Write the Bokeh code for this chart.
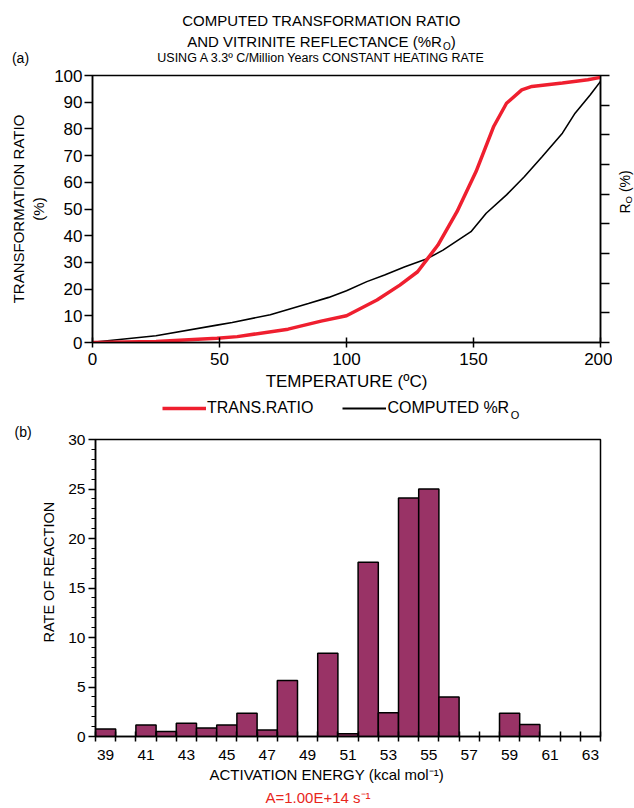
from math import pi
from bokeh.plotting import figure
from bokeh.models import (Range1d, LinearAxis, FixedTicker, Label, Legend, LegendItem, Title)
from bokeh.layouts import column, row
from bokeh.embed import file_html
from bokeh.resources import INLINE

# ---------------- data ----------------
temp_tr = [0, 25, 49, 57, 77, 90, 100, 112, 121, 128, 132, 136, 143.5, 151, 158, 163, 169, 173, 185, 195, 200]
trans_ratio = [0, 0.4, 1.6, 2.2, 5.0, 8.0, 10.0, 15.9, 21.5, 26.5, 31.5, 36.5, 49.0, 64.0, 81.0, 89.6, 94.6, 95.9, 97.2, 98.4, 99.3]

temp_ro = [0, 2, 25, 49, 55, 70, 85, 93, 100, 108, 115, 123, 132, 138, 149, 155, 163, 170, 177, 185, 190, 196, 200]
computed_ro = [0, 0.3, 2.5, 6.5, 7.5, 10.4, 14.6, 16.9, 19.4, 22.8, 25.3, 28.4, 31.5, 34.6, 41.5, 48.4, 55.3, 62.1, 69.6, 78.4, 85.9, 92.8, 97.8]

temp_ticks = [0, 50, 100, 150, 200]
ratio_ticks = [0, 10, 20, 30, 40, 50, 60, 70, 80, 90, 100]
ro_ticks = [0, 1, 2, 3, 4, 5, 6, 7, 8, 9]

energy = [39, 41, 42, 43, 44, 45, 46, 47, 48, 50, 51, 52, 53, 54, 55, 56, 59, 60]
rate = [0.75, 1.15, 0.5, 1.35, 0.85, 1.15, 2.35, 0.65, 5.65, 8.4, 0.27, 17.6, 2.4, 24.1, 25.0, 4.0, 2.35, 1.2]
energy_labels = [39, 41, 43, 45, 47, 49, 51, 53, 55, 57, 59, 61, 63]
energy_edges = [38.5 + i for i in range(26)]
rate_ticks = [0, 5, 10, 15, 20, 25, 30]
rate_minor = list(range(0, 31))

FONT = "Liberation Sans"
RED = "#ef1f2f"
BAR = "#993366"

AW = {' ': 278, '(': 333, ')': 333, '%': 889, '.': 278, '/': 278, '+': 584, '=': 584, 'º': 365,
      'A': 667, 'B': 667, 'C': 722, 'D': 722, 'E': 667, 'F': 611, 'G': 778, 'H': 722, 'I': 278,
      'L': 556, 'M': 833, 'N': 722, 'O': 778, 'P': 667, 'R': 722, 'S': 667, 'T': 611, 'U': 722,
      'V': 667, 'Y': 667}


def tw(s, size):
    return sum(AW.get(c, 556) for c in s) * size / 1000.0


def no_align(p):
    if "frame_align" in p.properties():
        p.frame_align = False


def text_panel(w, h):
    f = figure(width=w, height=h, x_range=Range1d(0, w), y_range=Range1d(0, h),
               x_axis_type=None, y_axis_type=None, output_backend="svg", toolbar_location=None,
               min_border=0, min_border_left=0, min_border_right=0, min_border_top=0,
               min_border_bottom=0)
    f.grid.visible = False
    f.outline_line_color = None
    no_align(f)
    return f


def lab(f, x, y, text, size, align="center", angle=0.0, color="black"):
    f.add_layout(Label(x=x, y=y, text=text, text_font=FONT, text_font_size=f"{size}px",
                       text_align=align, text_baseline="middle", angle=angle, text_color=color))


W = 634
W1 = 612
Y_P1, Y_LG, Y_P2, Y_END = 66, 397, 420, 808

# ---------------- header with the title block ----------------
hd = text_panel(W, Y_P1)
TC = 321
lab(hd, TC, Y_P1 - 20, "COMPUTED TRANSFORMATION RATIO", 15)
t2a, t2b, t2c = "AND VITRINITE REFLECTANCE (%R", "O", ")"
t2w = tw(t2a, 15) + tw(t2b, 10) + tw(t2c, 15)
x0 = TC - t2w / 2
lab(hd, x0, Y_P1 - 41, t2a, 15, align="left")
lab(hd, x0 + tw(t2a, 15), Y_P1 - 46, t2b, 10, align="left")
lab(hd, x0 + tw(t2a, 15) + tw(t2b, 10), Y_P1 - 41, t2c, 15, align="left")
lab(hd, TC, Y_P1 - 57, "USING A 3.3º C/Million Years CONSTANT HEATING RATE", 12.5)
lab(hd, 20, Y_P1 - 57, "(a)", 14)

# ---------------- top chart ----------------
p1 = figure(width=W1, height=Y_LG - Y_P1, x_range=Range1d(0, 200), y_range=Range1d(0, 100),
            output_backend="svg", toolbar_location=None,
            min_border_left=92, min_border_right=W1 - 600, min_border_top=75 - Y_P1,
            min_border_bottom=Y_LG - 342)
p1.grid.visible = False
p1.outline_line_color = "black"
p1.outline_line_width = 1.5
no_align(p1)

p1.line(temp_ro, computed_ro, line_color="black", line_width=1.6)
p1.line(temp_tr, trans_ratio, line_color=RED, line_width=3.5)

xa = p1.xaxis[0]
xa.ticker = FixedTicker(ticks=temp_ticks)
xa.major_tick_in = 5
xa.major_tick_out = 5
xa.minor_tick_line_color = None
xa.axis_line_width = 1.5
xa.major_tick_line_width = 1.5
xa.major_label_standoff = 5
xa.major_label_text_font = FONT
xa.major_label_text_font_size = "17px"
xa.major_label_text_color = "black"
xa.axis_label = "TEMPERATURE (ºC)"
xa.axis_label_text_font = FONT
xa.axis_label_text_font_size = "17px"
xa.axis_label_text_font_style = "normal"
xa.axis_label_text_color = "black"
xa.axis_label_standoff = 4

ya = p1.yaxis[0]
ya.ticker = FixedTicker(ticks=ratio_ticks)
ya.major_tick_in = 0
ya.major_tick_out = 8
ya.minor_tick_line_color = None
ya.axis_line_width = 1.5
ya.major_tick_line_width = 1.5
ya.major_label_standoff = 2
ya.major_label_text_font = FONT
ya.major_label_text_font_size = "17px"
ya.major_label_text_color = "black"
ya.axis_label = "TRANSFORMATION RATIO\n(%)"
ya.axis_label_text_font = FONT
ya.axis_label_text_font_size = "15px"
ya.axis_label_text_font_style = "normal"
ya.axis_label_text_color = "black"
ya.axis_label_standoff = 4

p1.extra_y_ranges = {"ro": Range1d(0, 9)}
ra = LinearAxis(y_range_name="ro", ticker=FixedTicker(ticks=ro_ticks),
                major_label_overrides={t: "" for t in ro_ticks})
ra.major_tick_in = 0
ra.major_tick_out = 9
ra.minor_tick_line_color = None
ra.axis_line_width = 1.5
ra.major_tick_line_width = 1.5
ra.major_label_standoff = 0
p1.add_layout(ra, "right")

# right-hand axis title R_O (%), set in a narrow strip beside the chart
rt = text_panel(W - W1, Y_LG - Y_P1)
ry = Y_LG - 213
lab(rt, 12, ry, "R", 14, align="left", angle=pi / 2)
lab(rt, 15.5, ry + tw("R", 14), "O", 9.5, align="left", angle=pi / 2)
lab(rt, 12, ry + tw("R", 14) + tw("O", 9.5) + tw(" ", 14), "(%)", 14, align="left", angle=pi / 2)

# ---------------- legend strip ----------------
HL = Y_P2 - Y_LG
lg = text_panel(W, HL)
lg.extra_y_ranges = {"off": Range1d(-1000, -900)}
s_red = lg.line(temp_tr, trans_ratio, y_range_name="off", line_color=RED, line_width=3.5)
s_blk = lg.line(temp_ro, computed_ro, y_range_name="off", line_color="black", line_width=2.2)
legend = Legend(items=[LegendItem(label="TRANS.RATIO", renderers=[s_red]),
                       LegendItem(label="COMPUTED %R", renderers=[s_blk])],
                orientation="horizontal", location=(162, Y_P2 - 418),
                padding=0, margin=0, spacing=29, glyph_width=44, glyph_height=20,
                label_standoff=1, label_text_font=FONT, label_text_font_size="16px",
                label_text_color="black",
                border_line_color=None, background_fill_alpha=0)
lg.add_layout(legend, "center")
sub_x = 162 + 44 + 1 + tw("TRANS.RATIO", 16) + 29 + 44 + 1 + tw("COMPUTED %R", 16)
lab(lg, sub_x, Y_P2 - 414, "O", 11, align="left")

# ---------------- bottom chart ----------------
p2 = figure(width=W, height=Y_END - Y_P2, x_range=Range1d(38.5, 63.5), y_range=Range1d(0, 30),
            output_backend="svg", toolbar_location=None,
            min_border_left=95, min_border_right=34, min_border_top=439 - Y_P2,
            min_border_bottom=Y_END - 737)
p2.grid.visible = False
p2.outline_line_color = "black"
p2.outline_line_width = 1.5
no_align(p2)

p2.vbar(x=energy, top=rate, width=1.0, bottom=0, fill_color=BAR, line_color="black", line_width=1.5)

xb = p2.xaxis[0]
xb.ticker = FixedTicker(ticks=energy_labels, minor_ticks=energy_edges)
xb.major_tick_in = 0
xb.major_tick_out = 0
xb.minor_tick_in = 5
xb.minor_tick_out = 5
xb.minor_tick_line_color = "black"
xb.minor_tick_line_width = 1.5
xb.axis_line_width = 1.5
xb.major_label_standoff = 8
xb.major_label_text_font = FONT
xb.major_label_text_font_size = "15.5px"
xb.major_label_text_color = "black"

yb = p2.yaxis[0]
yb.ticker = FixedTicker(ticks=rate_ticks, minor_ticks=rate_minor)
yb.major_tick_in = 0
yb.major_tick_out = 7
yb.minor_tick_in = 0
yb.minor_tick_out = 4
yb.axis_line_width = 1.5
yb.major_tick_line_width = 1.5
yb.minor_tick_line_width = 1.2
yb.minor_tick_line_color = "black"
yb.major_label_standoff = 3
yb.major_label_text_font = FONT
yb.major_label_text_font_size = "15.5px"
yb.major_label_text_color = "black"


def ttl(text, side, size, offset, standoff=0, color="black"):
    p2.add_layout(Title(text=text, align="left", offset=offset, standoff=standoff,
                        text_font=FONT, text_font_size=f"{size}px", text_font_style="normal",
                        text_color=color), side)


ttl("(b)", "above", 14, 14 - 95)
ttl("RATE OF REACTION", "left", 14.5, 737 - 643, standoff=18)
ttl("ACTIVATION ENERGY (kcal mol⁻¹)", "below", 15, 209 - 95, standoff=2)
ttl("A=1.00E+14 s⁻¹", "below", 15, 265 - 95, standoff=6, color="#e8261c")

layout = column(hd, row(p1, rt), lg, p2)
open("out.html", "w").write(file_html(layout, INLINE))
